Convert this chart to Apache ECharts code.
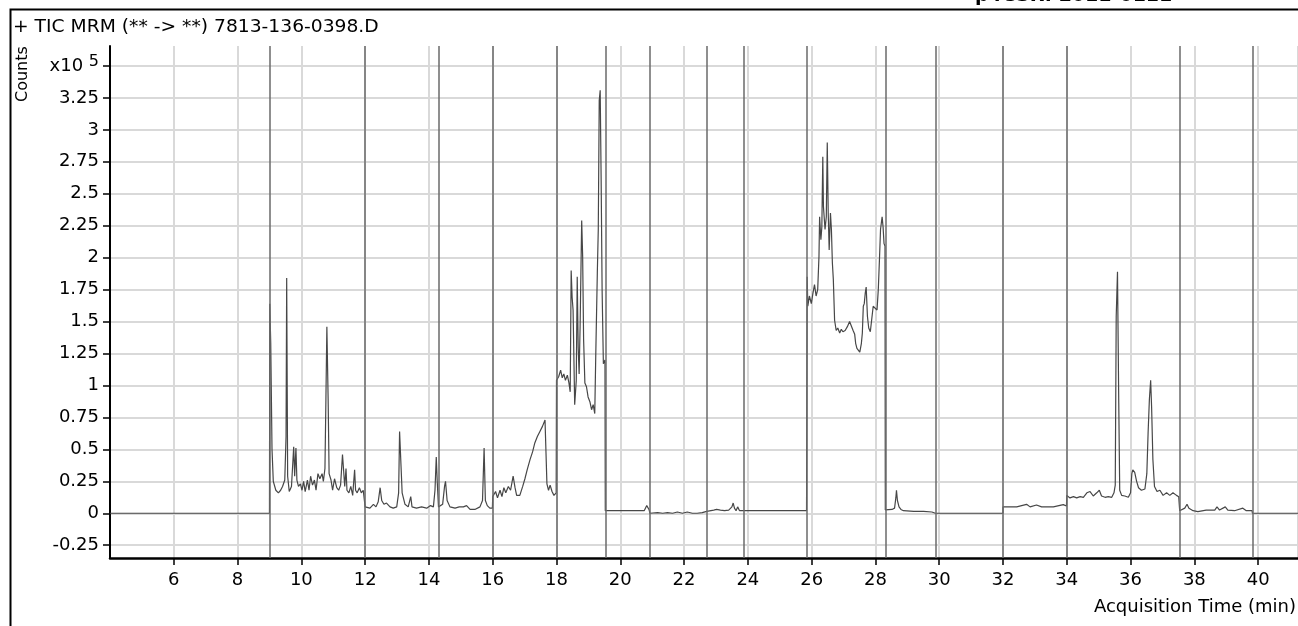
<!DOCTYPE html>
<html lang="en">

<head>
  <meta charset="UTF-8">
  <title>TIC MRM</title>
  <style media="screen">
    html, body { margin: 0; padding: 0; background: #fff; }
  </style>
</head>

<body>
  <div id="main" style="width:1298px;height:626px;"></div>
</body>
<script src="https://cdn.jsdelivr.net/npm/echarts@6/dist/echarts.min.js"></script>

<script>
  // time segments (min) where the MRM method switches
  var segmentTimes = [9.0, 12.0, 14.32, 16.0, 18.0, 19.53, 20.93, 22.72, 23.87, 25.85, 28.31, 29.89, 32.0, 34.0, 37.54, 39.82];

  // y tick values, counts x10^5
  var yTicks = [-0.25, 0, 0.25, 0.5, 0.75, 1, 1.25, 1.5, 1.75, 2, 2.25, 2.5, 2.75, 3, 3.25, 3.5];

  // [time (min), counts x10^5]
  var trace = [
    [4.00, 0], [9.00, 0],
    // 9.0 - 12.0
    [9.01, 1.64], [9.04, 1.33], [9.08, 0.50], [9.12, 0.25], [9.20, 0.18], [9.28, 0.16], [9.35, 0.18], [9.41, 0.21],
    [9.48, 0.26], [9.52, 0.60], [9.54, 1.84], [9.57, 0.29], [9.62, 0.17], [9.69, 0.21], [9.76, 0.52], [9.79, 0.29],
    [9.83, 0.51], [9.86, 0.26], [9.91, 0.21], [9.97, 0.23], [10.02, 0.18], [10.07, 0.25], [10.12, 0.17], [10.19, 0.26],
    [10.24, 0.18], [10.29, 0.29], [10.35, 0.22], [10.41, 0.26], [10.46, 0.18], [10.52, 0.31], [10.58, 0.27], [10.65, 0.31],
    [10.69, 0.25], [10.74, 0.35], [10.77, 0.89], [10.80, 1.46], [10.84, 0.89], [10.87, 0.31], [10.93, 0.26], [10.98, 0.18],
    [11.04, 0.27], [11.11, 0.20], [11.17, 0.18], [11.23, 0.22], [11.29, 0.46], [11.33, 0.47], [11.36, 0.21], [11.40, 0.35],
    [11.43, 0.18], [11.49, 0.16], [11.55, 0.21], [11.61, 0.14], [11.67, 0.34], [11.70, 0.18], [11.75, 0.16], [11.82, 0.20],
    [11.88, 0.16], [11.94, 0.18], [12.00, 0.17],
    // 12.0 - 14.32
    [12.00, 0.05], [12.05, 0.05], [12.15, 0.04], [12.26, 0.07], [12.34, 0.05], [12.41, 0.09], [12.47, 0.20], [12.52, 0.10],
    [12.59, 0.07], [12.67, 0.08], [12.78, 0.05], [12.88, 0.04], [12.99, 0.05], [13.05, 0.16], [13.08, 0.64], [13.12, 0.63],
    [13.16, 0.16], [13.25, 0.07], [13.35, 0.05], [13.43, 0.13], [13.47, 0.05], [13.61, 0.04], [13.77, 0.05], [13.93, 0.04],
    [14.05, 0.06], [14.14, 0.05], [14.19, 0.18], [14.23, 0.44], [14.26, 0.25], [14.30, 0.05],
    // 14.32 - 16.0
    [14.32, 0.04], [14.35, 0.04], [14.43, 0.07], [14.49, 0.21], [14.52, 0.25], [14.57, 0.10], [14.66, 0.05], [14.82, 0.04],
    [14.95, 0.05], [15.08, 0.05], [15.18, 0.06], [15.29, 0.03], [15.44, 0.03], [15.60, 0.05], [15.68, 0.10], [15.73, 0.51],
    [15.77, 0.10], [15.83, 0.06], [15.91, 0.04], [15.99, 0.04],
    // 16.0 - 18.0
    [16.00, 0.13], [16.09, 0.17], [16.15, 0.12], [16.23, 0.18], [16.29, 0.13], [16.35, 0.20], [16.41, 0.16], [16.49, 0.21],
    [16.56, 0.18], [16.64, 0.29], [16.70, 0.20], [16.75, 0.14], [16.85, 0.14], [16.94, 0.21], [17.01, 0.27], [17.08, 0.34],
    [17.17, 0.42], [17.25, 0.48], [17.32, 0.55], [17.40, 0.60], [17.48, 0.64], [17.56, 0.68], [17.64, 0.73], [17.67, 0.74],
    [17.70, 0.23], [17.75, 0.18], [17.80, 0.22], [17.86, 0.17], [17.92, 0.14], [17.99, 0.16],
    // 18.0 - 19.53
    [18.00, 1.04], [18.07, 1.07], [18.13, 1.12], [18.18, 1.06], [18.23, 1.09], [18.28, 1.04], [18.34, 1.08], [18.39, 1.02],
    [18.43, 0.95], [18.46, 1.90], [18.49, 1.69], [18.52, 1.59], [18.57, 0.85], [18.62, 1.04], [18.65, 1.85], [18.68, 1.30],
    [18.71, 1.09], [18.74, 1.46], [18.79, 2.29], [18.82, 2.01], [18.85, 1.36], [18.89, 1.02], [18.94, 0.99], [18.99, 0.91],
    [19.05, 0.87], [19.10, 0.81], [19.15, 0.85], [19.20, 0.78], [19.23, 1.22], [19.28, 1.88], [19.31, 2.22], [19.34, 3.23],
    [19.37, 3.31], [19.40, 2.61], [19.43, 1.75], [19.47, 1.17], [19.52, 1.20],
    // 19.53 - 25.85
    [19.53, 0.02], [19.82, 0.02], [20.13, 0.02], [20.44, 0.02], [20.75, 0.02], [20.83, 0.06], [20.86, 0.07], [20.90, 0.03],
    [20.92, 0.02], [20.93, 0.0], [21.17, 0.005], [21.33, 0.0], [21.48, 0.005], [21.64, 0.0], [21.79, 0.01], [21.95, 0.0],
    [22.10, 0.01], [22.26, 0.0], [22.41, 0.0], [22.57, 0.005], [22.71, 0.015], [22.72, 0.02], [22.93, 0.025], [23.02, 0.03],
    [23.14, 0.025], [23.27, 0.02], [23.40, 0.025], [23.50, 0.05], [23.54, 0.08], [23.58, 0.04], [23.63, 0.02], [23.68, 0.05],
    [23.74, 0.02], [23.86, 0.02], [23.87, 0.02], [24.39, 0.02], [24.60, 0.02], [24.65, 0.03], [24.70, 0.02], [25.43, 0.02],
    [25.84, 0.02],
    // 25.85 - 28.31
    [25.86, 1.85], [25.88, 1.62], [25.93, 1.70], [25.99, 1.64], [26.04, 1.72], [26.09, 1.79], [26.14, 1.70], [26.19, 1.75],
    [26.23, 2.01], [26.25, 2.32], [26.29, 2.14], [26.32, 2.24], [26.35, 2.79], [26.37, 2.40], [26.42, 2.22], [26.46, 2.32],
    [26.49, 2.90], [26.52, 2.35], [26.55, 2.06], [26.59, 2.35], [26.62, 2.22], [26.65, 1.96], [26.68, 1.83], [26.72, 1.51],
    [26.77, 1.43], [26.82, 1.45], [26.88, 1.41], [26.93, 1.44], [26.98, 1.42], [27.05, 1.43], [27.12, 1.46], [27.19, 1.50],
    [27.24, 1.49], [27.30, 1.43], [27.35, 1.40], [27.38, 1.33], [27.42, 1.29], [27.46, 1.28], [27.51, 1.26], [27.56, 1.33],
    [27.59, 1.41], [27.62, 1.62], [27.65, 1.64], [27.68, 1.72], [27.71, 1.77], [27.75, 1.54], [27.79, 1.45], [27.84, 1.42],
    [27.89, 1.43], [27.93, 1.62], [27.99, 1.63], [28.05, 1.59], [28.09, 1.75], [28.13, 2.01], [28.16, 2.22], [28.21, 2.32],
    [28.24, 2.24], [28.27, 2.11], [28.30, 2.09],
    // 28.31 - 34.0
    [28.31, 0.026], [28.52, 0.03], [28.60, 0.04], [28.64, 0.12], [28.66, 0.18], [28.69, 0.10], [28.74, 0.05], [28.80, 0.03],
    [28.88, 0.02], [29.20, 0.015], [29.51, 0.015], [29.77, 0.01], [29.88, 0.0], [29.89, 0], [32.00, 0],
    [32.00, 0.05], [32.43, 0.05], [32.74, 0.07], [32.85, 0.05], [33.05, 0.065], [33.21, 0.05], [33.58, 0.05], [33.89, 0.068],
    [33.99, 0.057],
    // 34.0 - 37.54
    [34.00, 0.14], [34.10, 0.12], [34.21, 0.13], [34.31, 0.12], [34.42, 0.13], [34.52, 0.125], [34.63, 0.16], [34.73, 0.17],
    [34.83, 0.135], [34.94, 0.16], [35.02, 0.18], [35.09, 0.135], [35.20, 0.125], [35.30, 0.13], [35.41, 0.125], [35.48, 0.16],
    [35.52, 0.22], [35.55, 1.54], [35.59, 1.89], [35.63, 0.86], [35.66, 0.18], [35.72, 0.14], [35.82, 0.135], [35.93, 0.125],
    [36.00, 0.16], [36.04, 0.31], [36.07, 0.34], [36.13, 0.32], [36.19, 0.25], [36.25, 0.20], [36.34, 0.18], [36.45, 0.19],
    [36.51, 0.31], [36.55, 0.63], [36.59, 0.89], [36.63, 1.04], [36.66, 0.83], [36.70, 0.42], [36.75, 0.21], [36.83, 0.17],
    [36.92, 0.18], [37.02, 0.14], [37.13, 0.16], [37.23, 0.14], [37.33, 0.16], [37.44, 0.14], [37.51, 0.13],
    // 37.54 - end
    [37.54, 0.02], [37.59, 0.02], [37.70, 0.04], [37.77, 0.07], [37.83, 0.04], [37.96, 0.02], [38.11, 0.013], [38.37, 0.025],
    [38.64, 0.025], [38.71, 0.05], [38.79, 0.025], [38.97, 0.05], [39.05, 0.025], [39.26, 0.02], [39.52, 0.04], [39.63, 0.02],
    [39.81, 0.02], [39.82, 0], [41.25, 0]
  ];

  var font = 'DejaVu Sans';
  var myChart = echarts.init(document.getElementById('main'));

  myChart.setOption({
    backgroundColor: '#ffffff',
    animation: false,
    grid: { left: 110, right: 0, top: 46, bottom: 68 },
    graphic: [
      { type: 'rect', shape: { x: 10.5, y: 9.5, width: 1400, height: 700 },
        style: { fill: 'none', stroke: '#000', lineWidth: 2 }, silent: true },
      { type: 'text', left: 975, top: -13,
        style: { text: 'p4CSR: 2011-0111', font: 'bold 19px "DejaVu Sans"', fill: '#000' } },
      { type: 'text', x: 13, y: 19, scaleX: 1.1,
        style: { text: '+ TIC MRM (** -> **) 7813-136-0398.D', font: '17px "DejaVu Sans"', fill: '#000' } },
      { type: 'text', x: 15, y: 102, rotation: Math.PI / 2,
        style: { text: 'Counts', font: '16px "DejaVu Sans"', fill: '#000' } },
      { type: 'text', x: 1296, y: 598,
        style: { text: 'Acquisition Time (min)', font: '18px "DejaVu Sans"', fill: '#000', align: 'right' } }
    ],
    xAxis: {
      type: 'value',
      min: 4,
      max: 41.25,
      interval: 2,
      axisLine: { onZero: false, lineStyle: { color: '#000', width: 2.5 } },
      axisTick: { length: 7, lineStyle: { color: '#000', width: 1.5 } },
      axisLabel: { showMinLabel: false, showMaxLabel: false, margin: 13, color: '#000', fontFamily: font, fontSize: 18 },
      splitLine: { show: true, lineStyle: { color: '#d9d9d9', width: 2 } }
    },
    yAxis: {
      type: 'value',
      min: -0.35,
      max: 3.656,
      axisLine: { show: true, onZero: false, lineStyle: { color: '#000', width: 2 } },
      axisTick: { show: true, length: 7, customValues: yTicks, lineStyle: { color: '#000', width: 1.5 } },
      axisLabel: {
        customValues: yTicks,
        margin: 11,
        color: '#000',
        fontFamily: font,
        fontSize: 18,
        formatter: function (v) {
          if (v === 3.5) return '{a|x10} {sup|5}';
          return String(v);
        },
        rich: {
          a: { fontFamily: font, fontSize: 18, color: '#000' },
          sup: { fontFamily: font, fontSize: 16, color: '#000', padding: [0, 0, 9, 0] }
        }
      },
      splitLine: { show: true, lineStyle: { color: '#d9d9d9', width: 2 } }
    },
    series: [{
      type: 'line',
      data: trace,
      showSymbol: false,
      lineStyle: { color: '#474747', width: 1.2 },
      markLine: {
        silent: true,
        symbol: 'none',
        label: { show: false },
        lineStyle: { color: '#6a6a6a', width: 1.5, type: 'solid' },
        data: segmentTimes.map(function (t) { return { xAxis: t }; })
      }
    }]
  });
</script>

</html>
